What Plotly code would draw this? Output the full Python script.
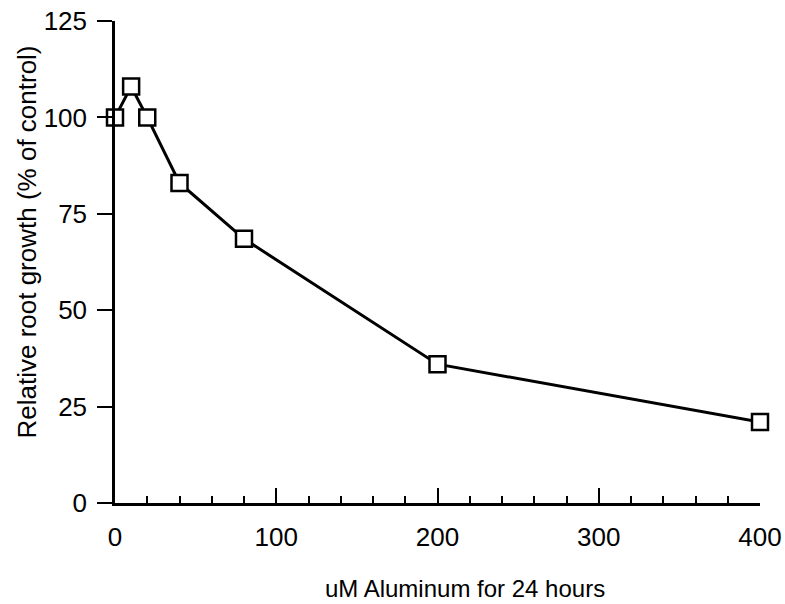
import plotly.graph_objects as go

aluminum_um = [0, 10, 20, 40, 80, 200, 400]
relative_growth = [100, 108, 100, 83, 68.5, 36, 21]
x_ticks = [0, 100, 200, 300, 400]
y_ticks = [0, 25, 50, 75, 100, 125]
x_title = "uM Aluminum for 24 hours"
y_title = "Relative root growth (% of control)"

fig = go.Figure()
fig.add_trace(go.Scatter(
    x=aluminum_um, y=relative_growth, mode="lines+markers",
    line=dict(color="black", width=3),
    marker=dict(symbol="square", size=16, color="white",
                line=dict(color="black", width=2.5)),
    cliponaxis=False, showlegend=False,
))

font_family = "Liberation Sans, Arial, sans-serif"
fig.update_layout(
    width=785, height=604,
    margin=dict(l=115, r=25, t=21, b=101, autoexpand=False),
    plot_bgcolor="white", paper_bgcolor="white",
    font=dict(family=font_family, color="black"),
)
fig.update_xaxes(
    range=[0, 400], tickvals=x_ticks, ticktext=[str(v) for v in x_ticks],
    ticks="inside", ticklen=15, tickwidth=2, tickcolor="black",
    minor=dict(dtick=20, ticks="inside", ticklen=7, tickwidth=2, tickcolor="black"),
    showline=True, linecolor="black", linewidth=2.5,
    showgrid=False, zeroline=False, automargin=False,
    tickfont=dict(size=26, family=font_family),
    ticklabelstandoff=9, ticklabeloverflow="allow",
)
fig.update_yaxes(
    range=[0, 125], tickvals=y_ticks, ticktext=[str(v) for v in y_ticks],
    ticks="outside", ticklen=15, tickwidth=2, tickcolor="black",
    showline=True, linecolor="black", linewidth=2.5,
    showgrid=False, zeroline=False, automargin=False,
    tickfont=dict(size=26, family=font_family),
    ticklabelstandoff=5, ticklabeloverflow="allow",
)
fig.add_annotation(
    text=x_title, xref="paper", yref="paper", x=0.543, y=-0.178,
    xanchor="center", yanchor="middle", showarrow=False,
    font=dict(size=24, family=font_family, color="black"),
)
fig.add_annotation(
    text=y_title, xref="paper", yref="paper", x=-0.136, y=0.541,
    xanchor="center", yanchor="middle", textangle=-90, showarrow=False,
    font=dict(size=26, family=font_family, color="black"),
)
fig.write_html(
    "out.html",
    config={"displayModeBar": False},
    post_script="document.body.style.margin='0';document.body.style.overflow='hidden';",
)
